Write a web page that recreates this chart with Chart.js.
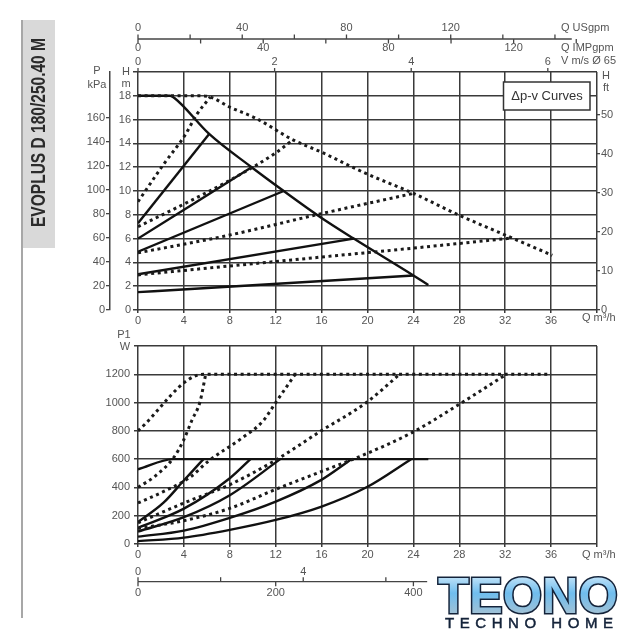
<!DOCTYPE html>
<html>
<head>
<meta charset="utf-8">
<script src="https://cdn.jsdelivr.net/npm/chart.js@4.4.1/dist/chart.umd.min.js"></script>
<style>
  html, body { margin: 0; padding: 0; background: #fff; width: 639px; height: 640px; overflow: hidden; }
  canvas { position: absolute; left: 0; }
  #topChart { top: 0; }
  #bottomChart { top: 330px; }
  svg { position: absolute; left: 0; top: 0; pointer-events: none; }
</style>
</head>
<body>
<canvas id="topChart" width="639" height="335"></canvas>
<canvas id="bottomChart" width="639" height="310"></canvas>
<svg width="639" height="640">
  <defs>
    <linearGradient id="logoFill" x1="0" y1="0" x2="0" y2="1">
      <stop offset="0" stop-color="#eaf5fc"/>
      <stop offset="0.45" stop-color="#6fbdee"/>
      <stop offset="1" stop-color="#b9c3c9"/>
    </linearGradient>
  </defs>
  <line x1="22" y1="20" x2="22" y2="618" stroke="#8a8a8a" stroke-width="1.5"/>
  <rect x="23" y="20" width="32" height="228" fill="#d9d9d9"/>
  <text transform="translate(45,132.5) rotate(-90)" text-anchor="middle" font-family="Liberation Sans, Arial, sans-serif" font-weight="bold" font-size="21" textLength="189" lengthAdjust="spacingAndGlyphs" fill="#2b2b2b">EVOPLUS D 180/250.40 M</text>
  <text x="438" y="613" font-family="Liberation Sans, Arial, sans-serif" font-weight="bold" font-size="50" textLength="180" lengthAdjust="spacingAndGlyphs" fill="url(#logoFill)" stroke="#14233a" stroke-width="3" paint-order="stroke">TEONO</text>
  <text x="445" y="628" font-family="Liberation Sans, Arial, sans-serif" font-size="15" textLength="168" lengthAdjust="spacing" fill="#14233a" stroke="#14233a" stroke-width="0.5">TECHNO HOME</text>
</svg>
<script>
// ---- axis ticks ----
const qTicks = [0, 4, 8, 12, 16, 20, 24, 28, 32, 36, 40];
const hTicks = [0, 2, 4, 6, 8, 10, 12, 14, 16, 18, 20];
const kpaTicks = [0, 20, 40, 60, 80, 100, 120, 140, 160];
const ftTicks = [0, 10, 20, 30, 40, 50];
const p1Ticks = [0, 200, 400, 600, 800, 1000, 1200, 1400];
const usgpmTicks = [0, 20, 40, 60, 80, 100, 120, 140, 160];
const usgpmLabels = [0, 40, 80, 120];
const impgpmTicks = [0, 20, 40, 60, 80, 100, 120, 140];
const impgpmLabels = [0, 40, 80, 120];
const velTicks = [0, 2, 4, 6];
const lsTicks = [0, 2, 4, 6];
const lsLabels = [0, 4];
const lminTicks = [0, 200, 400];

// unit conversions to m3/h
const US_TO_M3H = 0.2271;
const IMP_TO_M3H = 0.2728;
const VEL_TO_M3H = 40 / 6.72;
const LS_TO_M3H = 3.6;
const LMIN_TO_M3H = 0.06;
const topAxisEndQ = 37.8;
const bottomAxisEndQ = 25.2;

// ---- head curves (Q m3/h, H m) ----
const maxSolidQ = [0, 2.8, 3.2, 6.2, 9.9, 12.7, 15.9, 18.8, 24, 25.3];
const maxSolidH = [18, 18, 17.8, 14.8, 12, 10, 7.8, 6, 2.9, 2.1];
const dpv1Q = [0, 6.2];
const dpv1H = [7.3, 14.8];
const dpv2Q = [0, 9.9];
const dpv2H = [6, 12];
const dpv3Q = [0, 12.7];
const dpv3H = [4.9, 10];
const dpv4Q = [0, 18.8];
const dpv4H = [3, 6];
const dpv5Q = [0, 24];
const dpv5H = [1.5, 2.9];

const maxDotQ = [0, 5.4, 6.3, 8, 10.3, 13.5, 15.9, 19.8, 24, 27.9, 32, 36.1];
const maxDotH = [18, 18, 17.9, 17.05, 16.1, 14.3, 13.3, 11.5, 9.8, 8, 6.3, 4.6];
const dot2Q = [0, 2.2, 4.1, 5.1, 6.3];
const dot2H = [9.1, 12.2, 14.7, 16.4, 17.9];
const dot3Q = [0, 4, 8, 12, 13.5];
const dot3H = [7, 8.9, 10.9, 13.2, 14.3];
const dot4Q = [0, 8, 16, 24];
const dot4H = [4.8, 6.3, 8.1, 9.8];
const dot5Q = [0, 8, 16, 24, 32.6];
const dot5H = [2.95, 3.7, 4.45, 5.2, 6.05];

// ---- power curves (Q m3/h, P1 W) ----
const pMaxQ = [0, 3.1, 25.3];
const pMaxP = [528, 600, 600];
const pAQ = [0, 2.2, 3.95, 5.7];
const pAP = [155, 290, 445, 600];
const pBQ = [0, 4, 8, 9.8];
const pBP = [115, 250, 465, 600];
const pCQ = [0, 4, 8, 12.4];
const pCP = [88, 190, 345, 600];
const pDQ = [0, 4, 8, 12, 15.9, 18.6];
const pDP = [52, 95, 185, 300, 450, 600];
const pEQ = [0, 4, 8, 12, 16, 20, 23.8];
const pEP = [20, 45, 100, 170, 265, 405, 600];

const pDot1Q = [0, 5.7, 36];
const pDot1P = [800, 1200, 1200];
const pDot2Q = [0, 1.5, 3.1, 3.95, 4.7, 5.4, 5.9];
const pDot2P = [400, 480, 610, 730, 875, 1004, 1200];
const pDot3Q = [0, 2.2, 4.5, 6.2, 8.9, 10.9, 12, 13.7];
const pDot3P = [290, 370, 470, 590, 740, 870, 1000, 1200];
const pDot4Q = [0, 4, 8, 12, 15.9, 19.9, 22.8];
const pDot4P = [150, 290, 420, 593, 797, 1000, 1200];
const pDot5Q = [0, 4, 8, 12.1, 15.9, 19.6, 24, 28.1, 32.1];
const pDot5P = [110, 165, 252, 390, 510, 628, 793, 993, 1200];

const FONT = "'Liberation Sans', Arial, sans-serif";
const TXT = '#555';
const GRID = '#3a3a3a';

function pts(q, v) {
    return q.map((x, i) => ({ x: x, y: v[i] }));
}
function solid(q, v) {
    return { data: pts(q, v), borderColor: '#111', borderWidth: 2.4, pointRadius: 0,
             cubicInterpolationMode: 'monotone', fill: false };
}
function dotted(q, v) {
    return { data: pts(q, v), borderColor: '#1a1a1a', borderWidth: 3, borderDash: [3, 3.6],
             pointRadius: 0, cubicInterpolationMode: 'monotone', fill: false };
}
function fixedTicks(list) {
    return scale => { scale.ticks = list.map(v => ({ value: v })); };
}

function xScale() {
    return {
        type: 'linear', min: 0, max: 40,
        afterBuildTicks: fixedTicks(qTicks),
        afterFit: s => { s.height = 25; },
        ticks: { color: TXT, font: { family: FONT, size: 11 }, padding: 1,
                 maxRotation: 0, callback: v => v === 40 ? '' : v },
        grid: { color: GRID, lineWidth: 1.5, tickLength: 3 },
        border: { display: false }
    };
}

function tick(ctx, x1, y1, x2, y2) {
    ctx.beginPath(); ctx.moveTo(x1, y1); ctx.lineTo(x2, y2); ctx.stroke();
}

// extra axes, labels and the box of the head chart
const topDecor = {
    id: 'topDecor',
    afterDraw(chart) {
        const ctx = chart.ctx;
        const x = chart.scales.x;
        ctx.save();
        ctx.fillStyle = TXT;
        ctx.strokeStyle = '#444';
        ctx.lineWidth = 1.3;
        ctx.font = '11px ' + FONT;
        ctx.textAlign = 'center';
        ctx.textBaseline = 'middle';
        ctx.fillText('P', 97, 71);
        ctx.fillText('kPa', 97, 85);
        ctx.fillText('H', 126, 72);
        ctx.fillText('m', 126, 84);
        ctx.fillText('H', 606, 76);
        ctx.fillText('ft', 606, 88);

        // Q USgpm / Q IMPgpm shared line
        tick(ctx, x.getPixelForValue(0), 39, x.getPixelForValue(topAxisEndQ), 39);
        usgpmTicks.forEach(v => {
            const px = x.getPixelForValue(v * US_TO_M3H);
            tick(ctx, px, 39, px, 34.5);
        });
        usgpmLabels.forEach(v => ctx.fillText(v, x.getPixelForValue(v * US_TO_M3H), 28));
        impgpmTicks.forEach(v => {
            const px = x.getPixelForValue(v * IMP_TO_M3H);
            tick(ctx, px, 39, px, 43.5);
        });
        impgpmLabels.forEach(v => ctx.fillText(v, x.getPixelForValue(v * IMP_TO_M3H), 48));
        // velocity ticks on top border
        velTicks.forEach(v => {
            const px = x.getPixelForValue(v * VEL_TO_M3H);
            tick(ctx, px, chart.chartArea.top, px, chart.chartArea.top - 4);
            ctx.fillText(v, px, 62);
        });

        ctx.textAlign = 'left';
        ctx.fillText('Q USgpm', 561, 28);
        ctx.fillText('Q IMPgpm', 561, 48);
        ctx.fillText('V m/s \u00D8 65', 561, 61);
        ctx.fillText('Q m\u00B3/h', 582, 318);

        // curves label box
        ctx.fillStyle = '#fff';
        ctx.fillRect(503.5, 82, 86.5, 28);
        ctx.strokeStyle = '#333';
        ctx.lineWidth = 1.5;
        ctx.strokeRect(503.5, 82, 86.5, 28);
        ctx.fillStyle = '#333';
        ctx.font = '13px ' + FONT;
        ctx.textAlign = 'center';
        ctx.fillText('\u0394p-v Curves', 547, 96.5);
        ctx.restore();
    }
};

const bottomDecor = {
    id: 'bottomDecor',
    afterDraw(chart) {
        const ctx = chart.ctx;
        const x = chart.scales.x;
        ctx.save();
        ctx.fillStyle = TXT;
        ctx.strokeStyle = '#444';
        ctx.lineWidth = 1.3;
        ctx.font = '11px ' + FONT;
        ctx.textAlign = 'center';
        ctx.textBaseline = 'middle';
        ctx.fillText('P1', 124, 5);
        ctx.fillText('W', 125, 16.5);

        // Q l/s above, Q l/min below
        const ly = 251.7;
        tick(ctx, x.getPixelForValue(0), ly, x.getPixelForValue(bottomAxisEndQ), ly);
        lsTicks.forEach(v => {
            const px = x.getPixelForValue(v * LS_TO_M3H);
            tick(ctx, px, ly, px, ly - 4.5);
        });
        lsLabels.forEach(v => ctx.fillText(v, x.getPixelForValue(v * LS_TO_M3H), 241.7));
        lminTicks.forEach(v => {
            const px = x.getPixelForValue(v * LMIN_TO_M3H);
            tick(ctx, px, ly, px, ly + 4.5);
            ctx.fillText(v, px, 262.5);
        });

        ctx.textAlign = 'left';
        ctx.fillText('Q m\u00B3/h', 582, 225);
        ctx.restore();
    }
};

new Chart(document.getElementById('topChart'), {
    type: 'line',
    data: {
        datasets: [
            dotted(maxDotQ, maxDotH), dotted(dot2Q, dot2H), dotted(dot3Q, dot3H),
            dotted(dot4Q, dot4H), dotted(dot5Q, dot5H),
            solid(maxSolidQ, maxSolidH), solid(dpv1Q, dpv1H), solid(dpv2Q, dpv2H),
            solid(dpv3Q, dpv3H), solid(dpv4Q, dpv4H), solid(dpv5Q, dpv5H)
        ]
    },
    options: {
        responsive: false,
        animation: false,
        layout: { padding: { left: 80, right: 18, top: 72, bottom: 0 } },
        plugins: { legend: { display: false }, tooltip: { enabled: false } },
        scales: {
            x: xScale(),
            y: {
                type: 'linear', min: 0, max: 20, position: 'left', weight: 0,
                afterBuildTicks: fixedTicks(hTicks),
                afterFit: s => { s.width = 28; },
                ticks: { color: TXT, font: { family: FONT, size: 11 }, padding: 2,
                         callback: v => v === 20 ? '' : v },
                grid: { color: GRID, lineWidth: 1.5, tickLength: 5 },
                border: { display: false }
            },
            kpa: {
                type: 'linear', min: 0, max: 198, position: 'left', weight: 1,
                afterBuildTicks: fixedTicks(kpaTicks),
                afterFit: s => { s.width = 30; },
                ticks: { color: TXT, font: { family: FONT, size: 11 }, padding: 1 },
                grid: { drawOnChartArea: false, color: '#444', lineWidth: 1.3, tickLength: 4 },
                border: { display: true, color: '#444', width: 1.5 }
            },
            ft: {
                type: 'linear', min: 0, max: 61, position: 'right',
                afterBuildTicks: fixedTicks(ftTicks),
                afterFit: s => { s.width = 24; },
                ticks: { color: TXT, font: { family: FONT, size: 11 }, padding: 1 },
                grid: { drawOnChartArea: false, color: '#444', lineWidth: 1.3, tickLength: 3 },
                border: { display: false }
            }
        }
    },
    plugins: [topDecor]
});

new Chart(document.getElementById('bottomChart'), {
    type: 'line',
    data: {
        datasets: [
            dotted(pDot1Q, pDot1P), dotted(pDot2Q, pDot2P), dotted(pDot3Q, pDot3P),
            dotted(pDot4Q, pDot4P), dotted(pDot5Q, pDot5P),
            solid(pMaxQ, pMaxP), solid(pAQ, pAP), solid(pBQ, pBP),
            solid(pCQ, pCP), solid(pDQ, pDP), solid(pEQ, pEP)
        ]
    },
    options: {
        responsive: false,
        animation: false,
        layout: { padding: { left: 0, right: 42, top: 16, bottom: 71 } },
        plugins: { legend: { display: false }, tooltip: { enabled: false } },
        scales: {
            x: xScale(),
            y: {
                type: 'linear', min: 0, max: 1400, position: 'left',
                afterBuildTicks: fixedTicks(p1Ticks),
                afterFit: s => { s.width = 138; },
                ticks: { color: TXT, font: { family: FONT, size: 11 }, padding: 4,
                         callback: v => v === 1400 ? '' : v },
                grid: { color: GRID, lineWidth: 1.5, tickLength: 4 },
                border: { display: false }
            }
        }
    },
    plugins: [bottomDecor]
});
</script>
</body>
</html>
